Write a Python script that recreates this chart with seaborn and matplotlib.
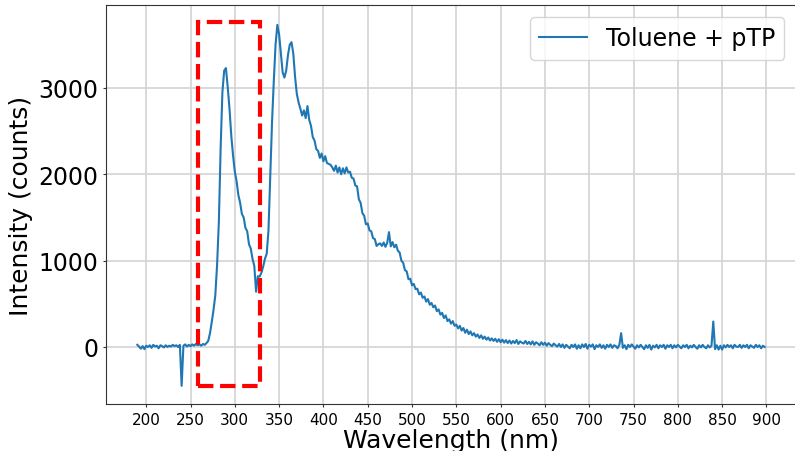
import numpy as np
import pandas as pd
import matplotlib
matplotlib.use("Agg")
import matplotlib.pyplot as plt
from matplotlib.patches import Rectangle
import seaborn as sns

# Emission spectrum of toluene + p-terphenyl, sampled every 2 nm (190-898 nm)
wavelength_nm = np.arange(190, 900, 2)

intensity_counts = [
    # 190-208
    25, 5, -20, 10, -25, 15, 0, 20, -10, 25,
    # 210-228
    5, 15, -15, 20, 10, -5, 20, 0, 15, 5,
    # 230-248
    25, 10, 20, 0, 25, -450, 15, 30, 5, 25,
    # 250-268
    10, 30, 15, 35, 20, 30, 15, 35, 25, 45,
    # 270-288
    70, 160, 290, 430, 600, 950, 1450, 2300, 2950, 3200,
    # 290-308
    3230, 3010, 2760, 2450, 2220, 2030, 1920, 1760, 1670, 1540,
    # 310-328
    1500, 1380, 1340, 1190, 1140, 1020, 940, 640, 820, 815,
    # 330-348
    860, 930, 1020, 1080, 1350, 1980, 2600, 3080, 3500, 3730,
    # 350-368
    3620, 3400, 3180, 3120, 3200, 3380, 3500, 3530, 3400, 3130,
    # 370-388
    2930, 2830, 2760, 2680, 2740, 2650, 2790, 2630, 2560, 2430,
    # 390-408
    2390, 2290, 2270, 2190, 2240, 2150, 2210, 2130, 2120, 2110,
    # 410-428
    2080, 2040, 2100, 2020, 2080, 2000, 2070, 2010, 2080, 2020,
    # 430-448
    2030, 1960, 1950, 1870, 1860, 1710, 1670, 1550, 1520, 1420,
    # 450-468
    1430, 1350, 1340, 1260, 1250, 1170, 1190, 1200, 1170, 1210,
    # 470-488
    1160, 1205, 1330, 1165, 1215, 1155, 1185, 1115, 1095, 1000,
    # 490-508
    975, 890, 875, 785, 790, 715, 730, 670, 675, 610,
    # 510-528
    630, 570, 585, 525, 555, 490, 510, 460, 480, 415,
    # 530-548
    435, 375, 395, 335, 365, 300, 320, 270, 300, 245,
    # 550-568
    260, 215, 245, 190, 220, 165, 200, 150, 180, 135,
    # 570-588
    160, 120, 145, 105, 135, 95, 120, 85, 110, 75,
    # 590-608
    100, 70, 95, 60, 90, 55, 85, 50, 80, 45,
    # 610-628
    75, 40, 70, 45, 80, 35, 65, 50, 40, 70,
    # 630-648
    35, 60, 30, 65, 25, 55, 40, 20, 55, 25,
    # 650-668
    50, 15, 45, 25, 10, 40, 20, 5, 35, 0,
    # 670-688
    30, -10, 25, 5, -15, 25, 0, 30, -20, 20,
    # 690-708
    -15, 30, 0, 35, -20, 25, 5, 30, -25, 20,
    # 710-728
    0, 30, -10, 20, -20, 25, 0, 30, -10, 20,
    # 730-748
    10, -15, 25, 160, -10, 20, -25, 25, 0, 30,
    # 750-768
    5, -20, 20, -5, 25, 0, -25, 20, -10, 25,
    # 770-788
    -30, 15, -5, 25, -15, 20, 0, 25, -20, 20,
    # 790-808
    0, 25, -15, 20, -5, 25, 5, -15, 20, 0,
    # 810-828
    25, -15, 15, -5, 25, 0, -20, 20, -5, 25,
    # 830-848
    0, -15, 20, -5, 15, 295, -25, 20, -30, 15,
    # 850-868
    -30, 20, -5, 25, 0, 20, -15, 25, 5, 0,
    # 870-888
    25, -10, 20, 0, 25, -15, 20, 5, -10, 25,
    # 890-898
    0, 20, -15, 15, 0,
]

series_label = "Toluene + pTP"
x_ticks = list(range(200, 901, 50))
y_ticks = [0, 1000, 2000, 3000]

# Highlighted band around the first emission peak (wavelength range, count range)
highlight_wl = (258, 328)
highlight_counts = (-455, 3765)

df = pd.DataFrame({"wavelength": wavelength_nm, "intensity": intensity_counts})

fig = plt.figure(figsize=(7.95, 4.52), dpi=100)
ax = fig.add_axes([0.1333, 0.104, 0.868, 0.8827])

sns.lineplot(data=df, x="wavelength", y="intensity", ax=ax,
             color="#1f77b4", linewidth=1.5, estimator=None, sort=False,
             label=series_label)

ax.add_patch(Rectangle((highlight_wl[0], highlight_counts[0]),
                       highlight_wl[1] - highlight_wl[0],
                       highlight_counts[1] - highlight_counts[0],
                       fill=False, edgecolor="red", linestyle="--",
                       linewidth=3, zorder=3))

ax.set_xlim(154.6, 933.4)
ax.set_ylim(-660, 3960)
ax.set_xticks(x_ticks)
ax.set_yticks(y_ticks)
ax.grid(True, color="#d3d3d3", linewidth=1.2)
ax.set_axisbelow(True)
ax.tick_params(axis="both", direction="out", length=2.5, width=0.8,
               color="#333333", pad=3)
ax.tick_params(axis="x", labelsize=11)
ax.tick_params(axis="y", labelsize=17)
ax.set_xlabel("Wavelength (nm)", fontsize=18, labelpad=1)
ax.set_ylabel("Intensity (counts)", fontsize=18)
for side in ("left", "bottom", "top"):
    ax.spines[side].set_color("#333333")
ax.spines["right"].set_visible(False)

ax.legend(loc="upper right", fontsize=17)

fig.savefig("out.png", dpi=100)
